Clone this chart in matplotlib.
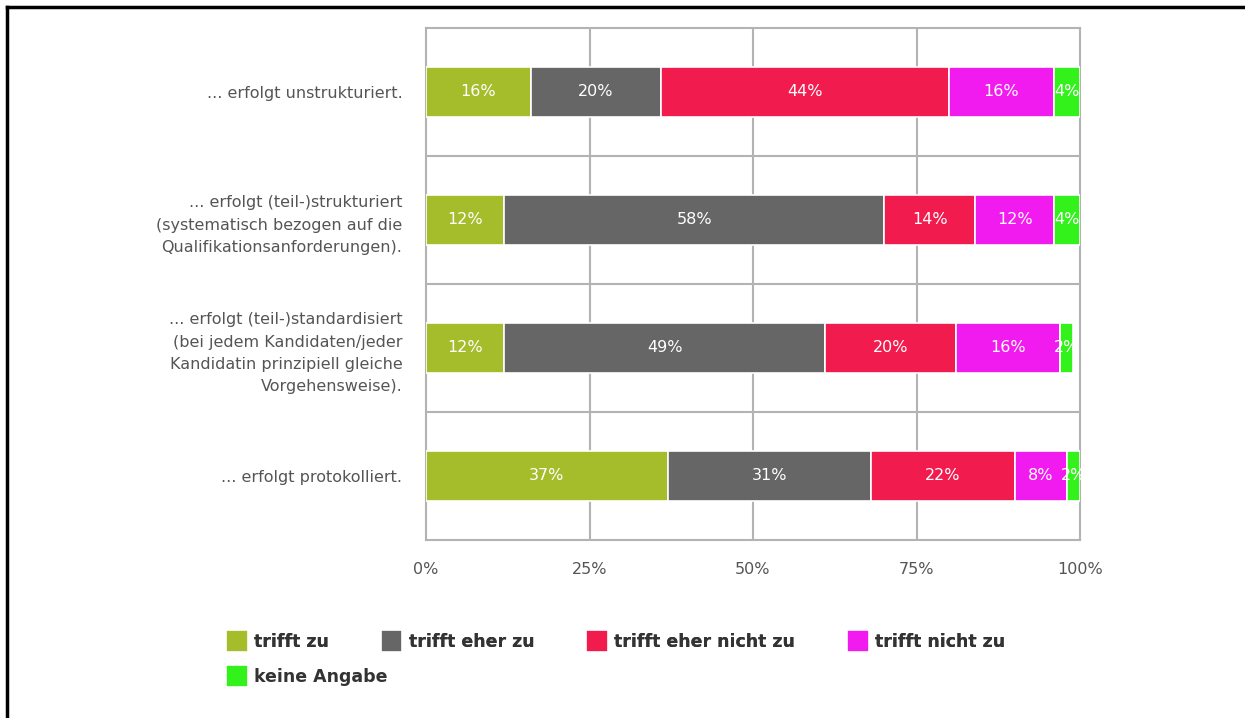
import matplotlib.pyplot as plt
import numpy as np

plt.rcParams['font.family'] = ['DejaVu Sans']

categories = [
    '... erfolgt unstrukturiert.',
    '... erfolgt (teil-)strukturiert\n(systematisch bezogen auf die\nQualifikationsanforderungen).',
    '... erfolgt (teil-)standardisiert\n(bei jedem Kandidaten/jeder\nKandidatin prinzipiell gleiche\nVorgehensweise).',
    '... erfolgt protokolliert.',
]
series_names = ['trifft zu', 'trifft eher zu', 'trifft eher nicht zu',
                'trifft nicht zu', 'keine Angabe']
trifft_zu = [16, 12, 12, 37]
trifft_eher_zu = [20, 58, 49, 31]
trifft_eher_nicht_zu = [44, 14, 20, 22]
trifft_nicht_zu = [16, 12, 16, 8]
keine_angabe = [4, 4, 2, 2]
colors = ['#a5bd2a', '#666666', '#f21b4d', '#f21bef', '#33f21b']
xticks = [0, 25, 50, 75, 100]

W, H = 1245, 718
fig = plt.figure(figsize=(W / 100, H / 100), dpi=100)
ax = fig.add_axes([426 / W, 1 - 540 / H, (1080 - 426) / W, (540 - 28) / H])

y = np.arange(len(categories))
left = np.zeros(len(categories))
bars = []
for name, vals, c in zip(series_names,
                         [trifft_zu, trifft_eher_zu, trifft_eher_nicht_zu,
                          trifft_nicht_zu, keine_angabe], colors):
    vals = np.array(vals, dtype=float)
    b = ax.barh(y, vals, left=left, height=0.39, color=c,
                edgecolor='white', linewidth=1.2, label=name, zorder=3)
    bars.append(b)
    for yi, l, v in zip(y, left, vals):
        ax.text(l + v / 2, yi, f'{v:.0f}%', color='white', fontsize=11.5,
                ha='center', va='center', zorder=4)
    left += vals

ax.set_xlim(0, 100)
ax.set_ylim(len(categories) - 0.5, -0.5)
ax.set_xticks(xticks)
ax.set_xticklabels([f'{t}%' for t in xticks])
ax.set_yticks(y)
ax.set_yticklabels(categories, linespacing=1.6)
ax.tick_params(length=0, colors='#555555', labelsize=11.5)
ax.tick_params(axis='x', pad=16)
ax.tick_params(axis='y', pad=17)
for t in ax.get_yticklabels():
    t.set_horizontalalignment('right')

# grid: vertical lines at quarter marks, horizontal lines between rows
for t in xticks[1:-1]:
    ax.axvline(t, color='#b3b3b3', lw=1.5, zorder=1)
for b in y[:-1] + 0.5:
    ax.axhline(b, color='#b3b3b3', lw=1.5, zorder=1)
for s in ax.spines.values():
    s.set_color('#b3b3b3')
    s.set_linewidth(1.5)

leg_kw = dict(frameon=False, handlelength=1.25, handleheight=1.55,
              handletextpad=0.35, borderpad=0, borderaxespad=0,
              prop={'weight': 'bold', 'size': 12.5})
leg1 = fig.legend(bars[:4], series_names[:4], ncol=4, columnspacing=3.0,
                  loc='upper left', bbox_to_anchor=(226 / W, 1 - 630 / H), **leg_kw)
for t in leg1.get_texts():
    t.set_color('#333333')
fig.add_artist(leg1)
leg2 = fig.legend(bars[4:], series_names[4:], loc='upper left',
                  bbox_to_anchor=(226 / W, 1 - 665 / H), **leg_kw)
for t in leg2.get_texts():
    t.set_color('#333333')

# outer frame on the left and top
fig.add_artist(plt.Line2D([7 / W, 7 / W], [0, 1 - 7 / H], color='black', lw=2.5,
                          transform=fig.transFigure))
fig.add_artist(plt.Line2D([7 / W, 1], [1 - 7 / H, 1 - 7 / H], color='black', lw=2.5,
                          transform=fig.transFigure))

fig.savefig('out.png', dpi=100)
